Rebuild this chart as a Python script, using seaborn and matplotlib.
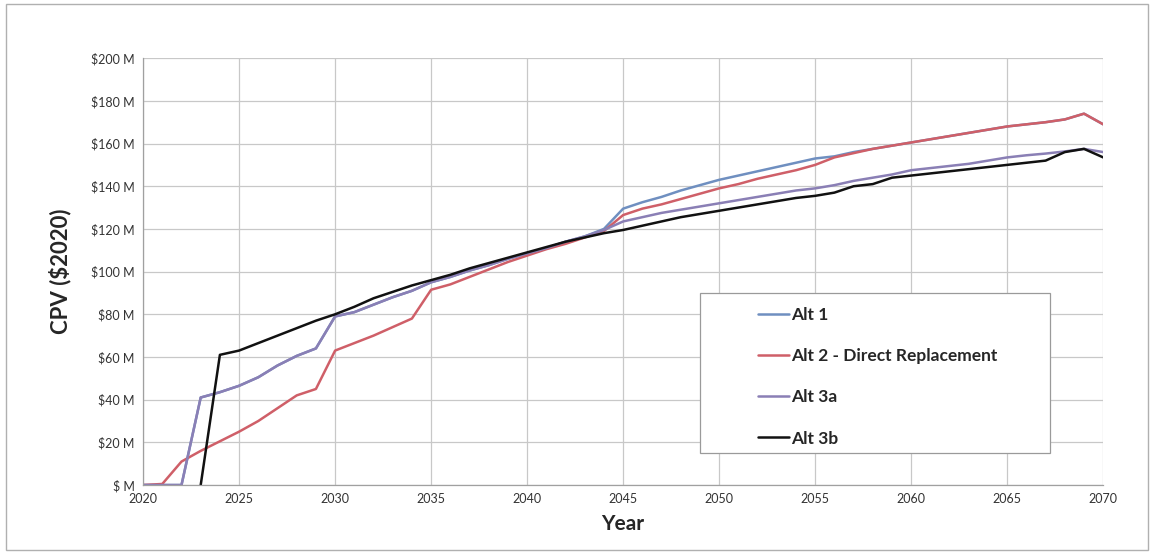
import numpy as np
import pandas as pd
import matplotlib
matplotlib.use("Agg")
import matplotlib.pyplot as plt
from matplotlib.ticker import FuncFormatter, MultipleLocator
from matplotlib.patches import Rectangle
import seaborn as sns

years = list(range(2020, 2071))

alt1 = [0, 0, 0, 41, 43.5, 46.5, 50.5, 56, 60.5, 64,
        79, 81, 84.5, 88, 91, 95, 97.5, 100.5, 103, 106,
        108.5, 111, 114, 116.5, 120, 129.5, 132.5, 135, 138, 140.5,
        143, 145, 147, 149, 151, 153, 154, 156, 157.5, 159,
        160.5, 162, 163.5, 165, 166.5, 168, 169, 170, 171.3, 174,
        169]

alt2 = [0, 0.5, 11, 16, 20.5, 25, 30, 36, 42, 45,
        63, 66.5, 70, 74, 78, 91.5, 94, 97.5, 101, 104.5,
        107.5, 110.5, 113, 116, 119, 126.5, 129.5, 131.5, 134, 136.5,
        139, 141, 143.5, 145.5, 147.5, 150, 153.5, 155.5, 157.5, 159,
        160.5, 162, 163.5, 165, 166.5, 168, 169, 170, 171.3, 174,
        169]

alt3a = [0, 0, 0, 41, 43.5, 46.5, 50.5, 56, 60.5, 64,
         79, 81, 84.5, 88, 91, 95, 97.5, 100.5, 103, 106,
         108.5, 111, 114, 116.5, 119.5, 123.5, 125.5, 127.5, 129, 130.5,
         132, 133.5, 135, 136.5, 138, 139, 140.5, 142.5, 144, 145.5,
         147.5, 148.5, 149.5, 150.5, 152, 153.5, 154.5, 155.3, 156.3, 157.5,
         156]

alt3b = [np.nan, np.nan, np.nan, 0, 61, 63, 66.5, 70, 73.5, 77,
         80, 83.5, 87.5, 90.5, 93.5, 96, 98.5, 101.5, 104, 106.5,
         109, 111.5, 114, 116, 118, 119.5, 121.5, 123.5, 125.5, 127,
         128.5, 130, 131.5, 133, 134.5, 135.5, 137, 140, 141, 144,
         145, 146, 147, 148, 149, 150, 151, 152, 156, 157.5,
         153.5]

series = {
    "Alt 1": alt1,
    "Alt 2 - Direct Replacement": alt2,
    "Alt 3a": alt3a,
    "Alt 3b": alt3b,
}
colors = {
    "Alt 1": "#6f8fc0",
    "Alt 2 - Direct Replacement": "#cf5f68",
    "Alt 3a": "#8a7fb5",
    "Alt 3b": "#111111",
}

frames = []
for name, vals in series.items():
    frames.append(pd.DataFrame({"Year": years, "CPV": vals, "Alt": name}))
df = pd.concat(frames, ignore_index=True).dropna()

sns.set_style("whitegrid")
plt.rcParams["font.family"] = ["Lato", "DejaVu Sans"]

fig = plt.figure(figsize=(11.54, 5.54), dpi=100)
ax = fig.add_axes([0.124, 0.1245, 0.832, 0.7705])

sns.lineplot(data=df, x="Year", y="CPV", hue="Alt", palette=colors,
             linewidth=1.8, ax=ax, legend=True)

ax.set_xlim(2020, 2070)
ax.set_ylim(0, 200)
ax.xaxis.set_major_locator(MultipleLocator(5))
ax.yaxis.set_major_locator(MultipleLocator(20))
ax.yaxis.set_major_formatter(FuncFormatter(lambda v, p: "$ M" if v == 0 else f"${v:.0f} M"))
ax.tick_params(axis="both", labelsize=9, colors="#333333", length=0, pad=6)
ax.grid(True, color="#c8c8c8", linewidth=0.9)
for s in ["top", "right"]:
    ax.spines[s].set_visible(False)
for s in ["left", "bottom"]:
    ax.spines[s].set_color("#a0a0a0")
    ax.spines[s].set_linewidth(0.9)

ax.set_xlabel("Year", fontsize=15, fontweight="bold", labelpad=6)
ax.set_ylabel("CPV ($2020)", fontsize=16, fontweight="bold", labelpad=14)

# legend box drawn separately, entries placed inside with an indent
ax.add_patch(Rectangle((0.580, 0.075), 0.365, 0.375, transform=ax.transAxes,
                       facecolor="white", edgecolor="#9a9a9a", linewidth=0.9,
                       zorder=4, clip_on=False))
leg = ax.legend(loc="upper left", bbox_to_anchor=(0.640, 0.417),
                frameon=False, labelspacing=1.45, handlelength=1.8,
                handletextpad=0.15, borderpad=0, borderaxespad=0,
                prop={"weight": "bold", "size": 12.5})
leg.set_zorder(5)
for h in leg.get_lines():
    h.set_linewidth(1.8)

fig.patches.append(Rectangle((0.005, 0.007), 0.99, 0.985, transform=fig.transFigure,
                             fill=False, edgecolor="#b0b0b0", linewidth=1))

fig.savefig("out.png", dpi=100)
